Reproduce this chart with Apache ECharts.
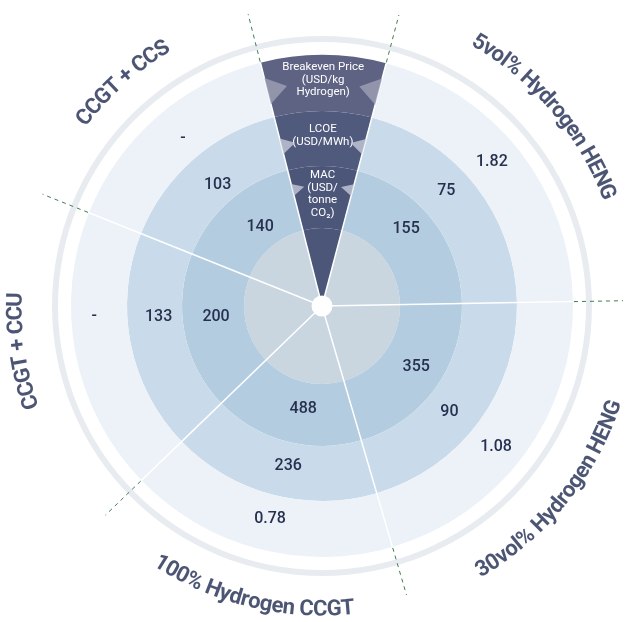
<!DOCTYPE html>
<html>
<head>
<meta charset="utf-8">
<title>Hydrogen options</title>
<script src="https://cdn.jsdelivr.net/npm/echarts@6/dist/echarts.min.js"></script>
<style>
  html, body { margin: 0; padding: 0; background: #fff; }
  #main { width: 628px; height: 622px; }
</style>
</head>
<body>
<div id="main"></div>
<script type="text/javascript">
// options, in the order they sit going anti-clockwise from the header wedge
var sectors = ['CCGT + CCS', 'CCGT + CCU', '100% Hydrogen CCGT', '30vol% Hydrogen HENG', '5vol% Hydrogen HENG'];
var sectorSpan = [54, 65.8, 62.3, 74.7, 74.2];   // degrees of the circle
var headerSpan = 29;
var breakeven = [null, null, 0.78, 1.08, 1.82];  // USD/kg hydrogen
var lcoe = [103, 133, 236, 90, 75];               // USD/MWh
var mac = [140, 200, 488, 355, 155];              // USD/tonne CO2
var metrics = ['Breakeven Price\n(USD/kg\nHydrogen)', 'LCOE\n(USD/MWh)', 'MAC\n(USD/\ntonne\nCO₂)'];

var CENTER = [322, 306];
var START = 104.2;
var FONT = 'Roboto, "Noto Sans", sans-serif';
var NAVY = '#27304f';

// nudges [dx, dy] in px so the numbers sit where the designer put them
var nudgeMac = [[12, 5], [3, -11], [9, -5], [3, -5], [-4, -8]];
var nudgeLcoe = [[8, 7], [3, -22], [9, -5], [-9, 5], [-9, -10]];
var nudgePrice = [[9, 2], [-6, -34], [5, -5], [-8, 7], [-8, -5]];

function fmt(v) { return v == null ? '-' : String(v); }

// shift an 'inside' label: spaces move it sideways, a blank line moves it up/down
function nudged(text, n) {
  var sp = new Array(Math.round(Math.abs(n[0]) / 2) + 1).join('\u00a0');
  var t = n[0] > 0 ? sp + text : text + sp;
  if (Math.abs(n[1]) >= 2) t = n[1] < 0 ? t + '\n\u00a0' : '\u00a0\n' + t;
  return t;
}

// one ring of the target: 5 option slices + the dark header slice
function ring(radius, bandColor, wedgeColor, values, metric, nudge) {
  var data = sectors.map(function (s, i) {
    var item = { name: s, value: sectorSpan[i], itemStyle: { color: bandColor } };
    if (nudge && Math.abs(nudge[i][1]) >= 2) item.label = { lineHeight: 2 * Math.abs(nudge[i][1]) };
    return item;
  });
  data.push({
    name: 'header', value: headerSpan, itemStyle: { color: wedgeColor },
    label: { color: '#fff', fontSize: 11.5, fontWeight: 400, lineHeight: 12.5 }
  });
  return {
    type: 'pie', radius: radius, center: CENTER, startAngle: START, clockwise: false,
    silent: true, z: 1, avoidLabelOverlap: false,
    itemStyle: { borderWidth: 0 },
    label: {
      show: values != null, position: 'inside', color: NAVY, fontFamily: FONT,
      fontSize: 16, fontWeight: 500,
      formatter: function (p) {
        if (!values) return '';
        if (p.dataIndex === 5) return metric;
        return nudged(fmt(values[p.dataIndex]), nudge[p.dataIndex]);
      }
    },
    labelLine: { show: false },
    data: data
  };
}

// sector boundary angles
var bounds = [START];
(function () {
  var a = START;
  sectorSpan.forEach(function (s) { a += s; bounds.push(a % 360); });
})();

var series = [];
series.push({
  type: 'pie', radius: [264, 270], center: CENTER, silent: true, z: 0,
  label: { show: false }, data: [{ value: 1, itemStyle: { color: '#e8ecf0' } }]
});
series.push(ring([0, 78], '#c9d5df', '#4b5679', null, null, null));
series.push(ring([78, 140], '#b3cce0', '#4b5679', mac, metrics[2], nudgeMac));
series.push(ring([140, 195], '#c9dbea', '#505a7d', lcoe, metrics[1], nudgeLcoe));
series.push(ring([195, 251], '#ecf2f8', '#5e6283', breakeven, metrics[0], nudgePrice));

bounds.forEach(function (a) {
  series.push({
    type: 'line', coordinateSystem: 'polar', silent: true, z: 3, symbol: 'none',
    lineStyle: { color: '#fff', width: 1.5 }, data: [[0, a], [251, a]]
  });
  series.push({
    type: 'line', coordinateSystem: 'polar', silent: true, z: 3, symbol: 'none',
    lineStyle: { color: '#3f7d52', width: 1, type: [4, 4] }, data: [[252, a], [301, a]]
  });
});

// little notches on the header wedge, one pair per ring
var notchR = [222, 165, 120];
var notchSize = [[27, 20], [16, 14], [12, 12]];
var notchColor = ['#9ea1b5', '#c6cad7', '#c6cad7'];
var notches = [];
notchR.forEach(function (r, i) {
  var h = notchSize[i][1];
  var off = (h / 2) / r * 180 / Math.PI;
  var left = bounds[0], right = bounds[5];
  notches.push({ value: [r, left - off], symbolSize: notchSize[i], symbolRotate: left - 180, itemStyle: { color: notchColor[i] } });
  notches.push({ value: [r, right + off], symbolSize: notchSize[i], symbolRotate: right, itemStyle: { color: notchColor[i] } });
});
series.push({
  type: 'scatter', coordinateSystem: 'polar', silent: true, z: 4, symbol: 'triangle', data: notches
});

// option names set along the outer arc, letter by letter
var nameAngle = [131.7, 188.5, 256.5, 321.2, 40.4];
var nameR = [302, 306, 304, 309, 306];
var nameTopOut = [true, true, false, false, true];
var NAME_SIZE = 22, NAME_TRACK = 0.95;
var ctx = document.createElement('canvas').getContext('2d');
ctx.font = 'bold ' + NAME_SIZE + 'px Roboto';
var chars = [];
sectors.forEach(function (s, i) {
  var widths = s.split('').map(function (c) { return ctx.measureText(c).width * NAME_TRACK; });
  var total = widths.reduce(function (a, b) { return a + b; }, 0);
  var cum = 0;
  s.split('').forEach(function (c, k) {
    var d = (total / 2 - (cum + widths[k] / 2)) / nameR[i] * 180 / Math.PI;
    cum += widths[k];
    if (c === ' ') return;
    var ang = nameTopOut[i] ? nameAngle[i] + d : nameAngle[i] - d;
    ang = (ang + 360) % 360;
    chars.push({
      name: c, value: [nameR[i], ang],
      label: { rotate: nameTopOut[i] ? ang - 90 : ang + 90 }
    });
  });
});
series.push({
  type: 'scatter', coordinateSystem: 'polar', silent: true, z: 5, symbolSize: 0,
  label: {
    show: true, position: 'inside', formatter: '{b}', color: '#1f2a50',
    fontFamily: FONT, fontSize: NAME_SIZE, fontWeight: 'bold', align: 'center', verticalAlign: 'middle'
  },
  data: chars
});

series.push({
  type: 'pie', radius: [0, 10.5], center: CENTER, silent: true, z: 6,
  label: { show: false }, data: [{ value: 1, itemStyle: { color: '#fff' } }]
});

var chart = echarts.init(document.getElementById('main'));
chart.setOption({
  animation: false,
  backgroundColor: '#fff',
  polar: { center: CENTER, radius: 320 },
  angleAxis: { type: 'value', min: 0, max: 360, startAngle: 0, clockwise: false, show: false },
  radiusAxis: { type: 'value', min: 0, max: 320, show: false },
  series: series
});
</script>
</body>
</html>
